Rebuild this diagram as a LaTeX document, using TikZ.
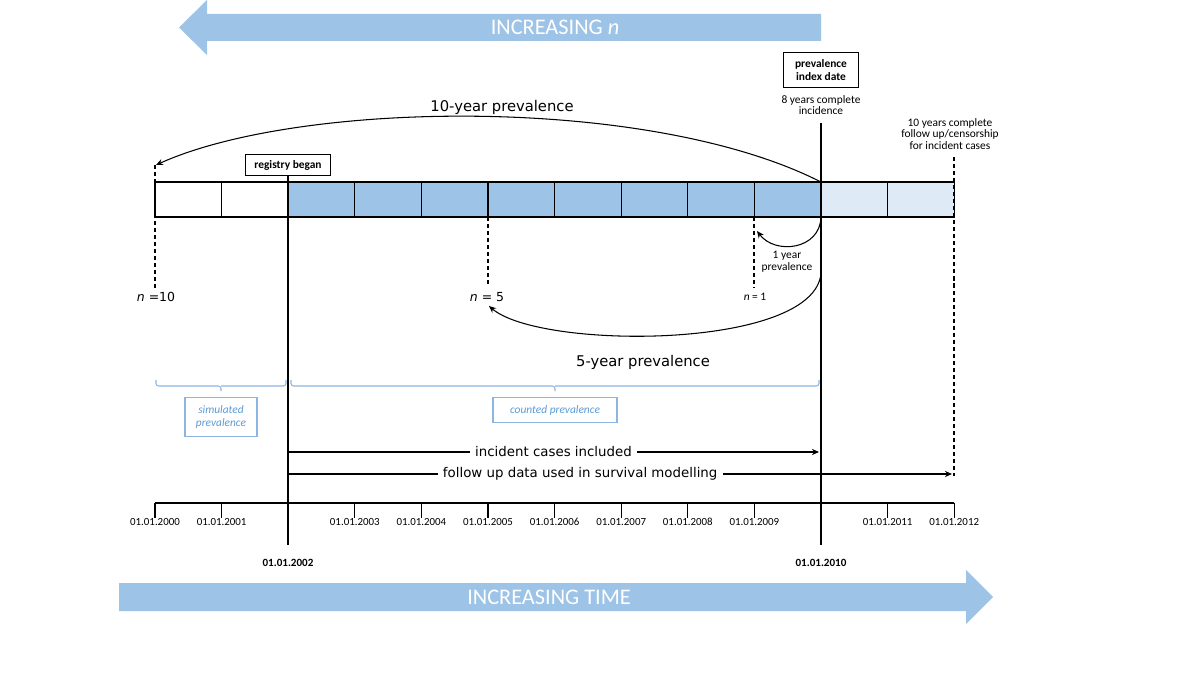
\documentclass[tikz,border=0pt]{standalone}
\usepackage{fontspec}
\setmainfont{Carlito}
\newfontfamily\verd{DejaVu Sans}
\usetikzlibrary{arrows.meta}
\definecolor{barblue}{HTML}{9DC3E6}
\definecolor{lightblue}{HTML}{DEEBF7}
\definecolor{bracblue}{HTML}{8EB4E3}
\definecolor{textblue}{HTML}{5B9BD5}
\begin{document}
\begin{tikzpicture}[x=0.02cm, y=-0.02cm,
    datefont/.style={font=\fontsize{6.2}{7}\selectfont},
    note/.style={font=\fontsize{6.5}{6.7}\selectfont, align=center},
    bigtxt/.style={font=\fontsize{12.7}{14}\selectfont, text=white},
    plabel/.style={font=\verd\fontsize{8.4}{10}\selectfont},
    linelabel/.style={font=\verd\fontsize{7.6}{9}\selectfont, fill=white, inner xsep=3pt},
    tagbox/.style={draw, line width=0.6pt, font=\bfseries\fontsize{6.5}{6.9}\selectfont, align=center, inner sep=1pt},
    simbox/.style={draw=bracblue, line width=0.6pt, text=textblue, font=\itshape\fontsize{6.5}{7.2}\selectfont, align=center, inner sep=1pt},
    dashline/.style={line width=1.1pt, dash pattern=on 2.3pt off 1.7pt},
    yearline/.style={line width=1.4pt},
    curve/.style={line width=0.6pt, -{Stealth[length=4pt,width=3.5pt]}},
    brac/.style={bracblue, line width=0.6pt, rounded corners=1.5pt},
]
\useasboundingbox (0,0) rectangle (1200,689);

% the two big arrows
\fill[barblue] (821,14) -- (207,14) -- (207,0) -- (179,27.5) -- (207,55) -- (207,41) -- (821,41) -- cycle;
\node[bigtxt] (moren) at (555,27.5) {INCREASING \textit{n}};
\fill[barblue] (119,583) -- (966,583) -- (966,570) -- (993,597) -- (966,624) -- (966,611) -- (119,611) -- cycle;
\node[bigtxt] (moretime) at (549,597) {INCREASING TIME};

% one cell for each year
\foreach \i/\c in {0/white,1/white,2/barblue,3/barblue,4/barblue,5/barblue,6/barblue,7/barblue,8/barblue,9/barblue,10/lightblue,11/lightblue}
    \draw[line width=0.75pt, fill=\c] ({155+66.6*\i},182) rectangle ({155+66.6*(\i+1)},217);

% time axis
\draw[line width=0.75pt] (155,503) -- (954,503);
\foreach \i/\yr in {0/2000,1/2001,3/2003,4/2004,5/2005,6/2006,7/2007,8/2008,9/2009,11/2011,12/2012} {
    \draw[line width=0.75pt] ({155+66.6*\i},503) -- ({155+66.6*\i},518);
    \node[datefont] (d\yr) at ({155+66.6*\i},522) {01.01.\yr};
}

% registry start and index date
\node[tagbox, minimum width=1.7cm, minimum height=0.42cm] (reg) at (288,165) {registry began};
\coordinate (regfoot) at (288,545);
\draw[yearline] (reg.south) -- (regfoot);
\node[font=\bfseries\fontsize{6.3}{7}\selectfont] (d2002) at (288,563) {01.01.2002};

\node[tagbox, minimum width=1.5cm, minimum height=0.7cm] (pid) at (821,70) {prevalence\\index date};
\node[note] (eight) at (821,105) {8 years complete\\incidence};
\coordinate (idxtop) at (821,123);
\coordinate (idxfoot) at (821,545);
\draw[yearline] (idxtop) -- (idxfoot);
\node[font=\bfseries\fontsize{6.3}{7}\selectfont] (d2010) at (821,563) {01.01.2010};

\node[note] (ten) at (950,134) {10 years complete\\follow up/censorship\\for incident cases};

% dashed markers
\coordinate (m10top) at (155,165);
\coordinate (m10foot) at (155,288);
\coordinate (m5top) at (488,217);
\coordinate (m5foot) at (488,286);
\coordinate (m1top) at (754,217);
\coordinate (m1foot) at (754,288);
\coordinate (futop) at (954,157);
\coordinate (fufoot) at (954,476);
\draw[dashline] (m10top) -- (m10foot);
\draw[dashline] (m5top) -- (m5foot);
\draw[dashline] (m1top) -- (m1foot);
\draw[dashline] (futop) -- (fufoot);

\node[font=\verd\fontsize{7.1}{8}\selectfont] (n10) at (156,297) {\textit{n} =10};
\node[font=\verd\fontsize{7.1}{8}\selectfont] (n5) at (487,297) {\textit{n} = 5};
\node[font=\fontsize{6.5}{7}\selectfont] (n1) at (755,297) {\textit{n} = 1};

% prevalence curves
\coordinate (bartop) at (821,182);
\coordinate (barbot) at (821,217);
\coordinate (midline) at (821,273);
\draw[curve] (bartop) .. controls (650,95) and (300,100) .. (156,165);
\node[plabel] (p10) at (502,107) {10-year prevalence};
\draw[curve] (barbot) .. controls (820,250) and (775,255) .. (757,231);
\node[note] (p1) at (787,262) {1 year\\prevalence};
\draw[curve] (midline) .. controls (815,350) and (540,350) .. (489,306);
\node[plabel] (p5) at (643,362) {5-year prevalence};

% brackets
\draw[brac] (156,380) |- (221,386) -- (221,391) (221,386) -| (286,380);
\node[simbox, minimum width=1.44cm, minimum height=0.78cm] (sim) at (221,417) {simulated\\prevalence};
\draw[brac] (291,380) |- (555,386) -- (555,391) (555,386) -| (819,380);
\node[simbox, minimum width=2.48cm, minimum height=0.5cm] (cnt) at (555,410) {counted prevalence};

% data ranges
\coordinate (incstart) at (288,452);
\coordinate (incend) at (819,452);
\coordinate (fustart) at (288,474);
\coordinate (fuend) at (952,474);
\draw[curve] (incstart) -- node[linelabel] (inc) {incident cases included} (incend);
\draw[curve] (fustart) -- node[linelabel, pos=0.44] (fol) {follow up data used in survival modelling} (fuend);
\end{tikzpicture}
\end{document}
